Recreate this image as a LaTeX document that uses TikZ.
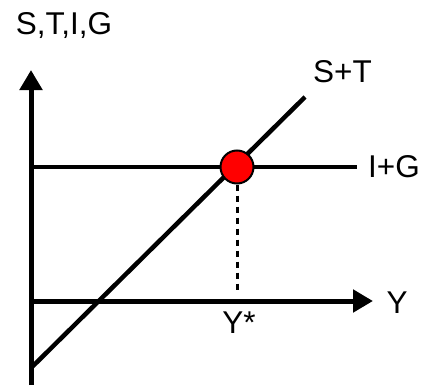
\documentclass[tikz,border=0pt]{standalone}
\usepackage{fontspec}
\setmainfont{Liberation Sans}
\usetikzlibrary{arrows.meta}
\begin{document}
\begin{tikzpicture}[x=1pt, y=-1pt,
        axis/.style={line width=5pt, -{Triangle[length=20pt,width=22pt]}},
        sched/.style={line width=4.5pt},
        lbl/.style={font=\fontsize{31.5}{38}\selectfont, inner sep=0pt, anchor=base},
        eqpt/.style={circle, draw, line width=2pt, fill=red, minimum size=33pt, inner sep=0pt},
        guide/.style={line width=3pt, dash pattern=on 6pt off 5pt},
    ]
    \useasboundingbox (0,0) rectangle (427,385);
    % axes
    \coordinate (ybot) at (31,385);
    \coordinate (ytop) at (31,70);
    \coordinate (xbeg) at (31,301);
    \coordinate (xend) at (373,301);
    \draw[axis] (ybot) -- (ytop);
    \draw[axis] (xbeg) -- (xend);
    % schedules
    \coordinate (stbeg) at (31,368);
    \coordinate (stend) at (305,97);
    \coordinate (igbeg) at (31,167);
    \coordinate (igend) at (357,167);
    \draw[sched] (stbeg) -- (stend);
    \draw[sched] (igbeg) -- (igend);
    % equilibrium
    \node[eqpt](eq) at (237,167){};
    \coordinate (yfoot) at (237,293);
    \draw[guide] (eq.south) -- (yfoot);
    % labels
    \node[lbl](vlab) at (64,35){S,T,I,G};
    \node[lbl](stlab) at (342.5,82){S+T};
    \node[lbl](iglab) at (394,177){I+G};
    \node[lbl](xlab) at (397,313){Y};
    \node[lbl](ystar) at (239,333){Y*};
\end{tikzpicture}
\end{document}
